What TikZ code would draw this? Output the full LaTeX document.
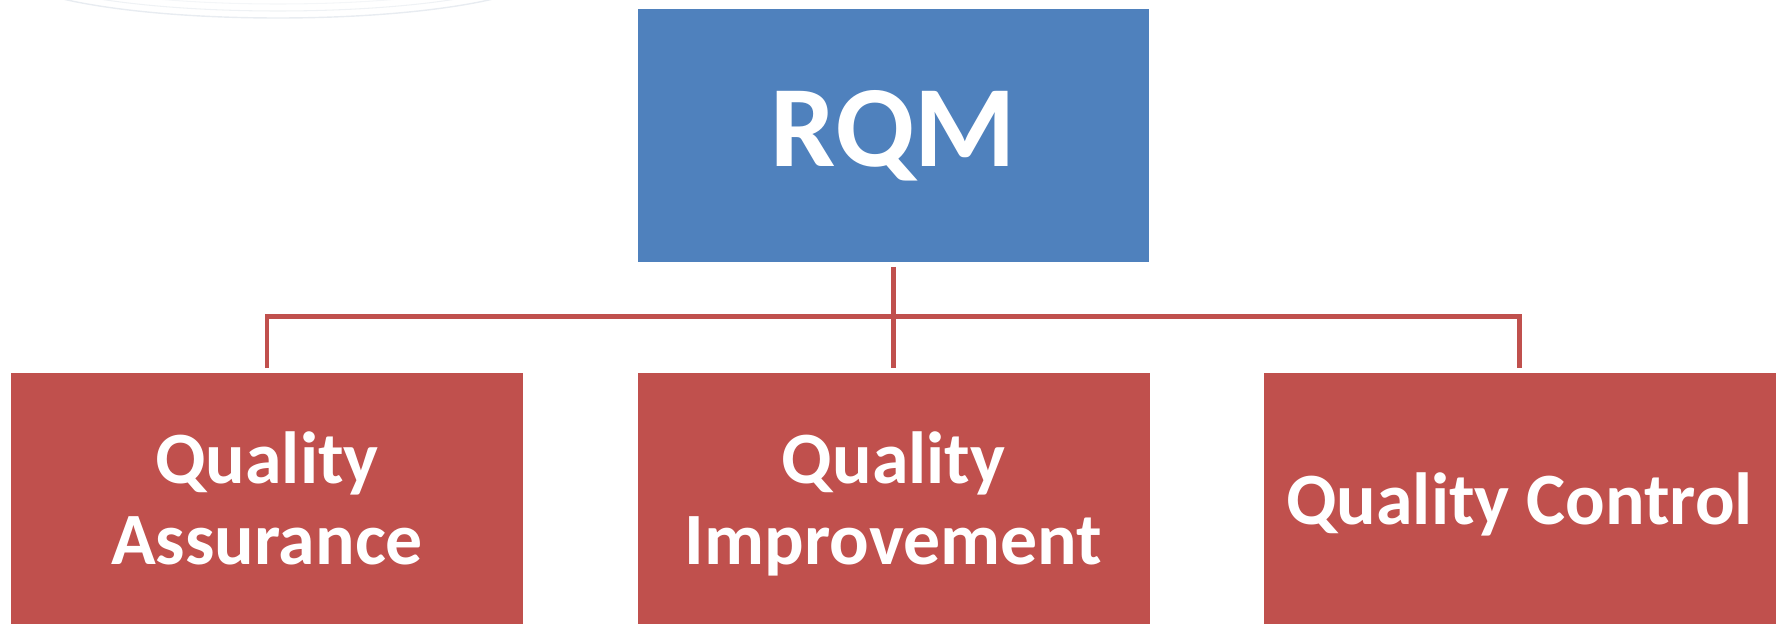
\documentclass[tikz,border=0pt]{standalone}
\usepackage{fontspec}
\setmainfont{Carlito}
\definecolor{rqmblue}{HTML}{4F81BD}
\definecolor{rqmred}{HTML}{C0504D}
\definecolor{haze}{HTML}{E8ECF1}
\begin{document}
\begin{tikzpicture}[
	topbox/.style={fill=rqmblue, text=white, minimum width=10.22cm, minimum height=5.06cm, inner sep=0pt, font=\fontsize{66}{72}\selectfont\bfseries},
	subbox/.style={fill=rqmred, text=white, minimum width=10.24cm, minimum height=5.24cm, inner sep=0pt, align=center, font=\fontsize{42}{46}\selectfont\bfseries},
	link/.style={draw=rqmred, line width=2.8pt, shorten <=0.09cm, shorten >=0.09cm}]
		\clip (0,0) rectangle (35.58,-12.48);
		% faint background arcs
		\draw[haze, line width=0.8pt] (5.56,0.6) ellipse (5.4cm and 0.96cm);
		\draw[haze!70, line width=0.6pt] (5.56,0.66) ellipse (5.2cm and 0.88cm);
		\draw[haze!50, line width=0.6pt] (5.56,0.72) ellipse (5.0cm and 0.8cm);
		\node[topbox] (rqm) at (17.87, -2.71) {RQM};
		\node[subbox] (qa) at (5.34, -10.08)  {Quality\\Assurance\vphantom{y}};
		\node[subbox] (qi) at (17.87, -10.08) {Quality\\Improvement};
		\node[subbox] (qc) at (30.39, -10.08) {Quality Control};
		\coordinate (bar) at (17.87, -6.33);
		\draw[link] (rqm.south) -- (qi.north);
		\draw[link] (qa.north) |- (bar) -| (qc.north);
\end{tikzpicture}
\end{document}
